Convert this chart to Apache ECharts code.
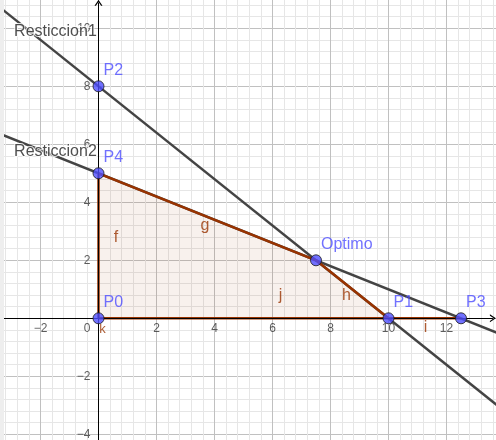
<!DOCTYPE html>
<html><head><meta charset="utf-8">
<script src="https://cdn.jsdelivr.net/npm/echarts@6/dist/echarts.min.js"></script>
<style>html,body{margin:0;padding:0;background:#fff}#c{width:496px;height:440px}</style>
</head><body><div id="c"></div>
<script>
// ---- data ----
const pointNames = ['P0', 'P1', 'P2', 'P3', 'P4', 'Optimo'];
const pointX = [0, 10, 0, 12.5, 0, 7.5];
const pointY = [0, 0, 8, 0, 5, 2];
const restr1X = [-4, 14];
const restr1Y = [11.2, -3.2];
const restr2X = [-4, 14];
const restr2Y = [6.6, -0.6];
const feasX = [0, 0, 7.5, 10];
const feasY = [0, 5, 2, 0];
const baseX = [0, 10, 12.5];
const baseY = [0, 0, 0];
const xTicks = [-2, 0, 2, 4, 6, 8, 10, 12];
const yTicks = [-4, -2, 2, 4, 6, 8, 10];
const lineLabels = ['Resticcion1', 'Resticcion2'];
const lineLabelX = [-2.91, -2.91];
const lineLabelY = [9.89, 5.75];
const segNames = ['f', 'g', 'h', 'j', 'i', 'k'];
const segX = [0.6, 3.67, 8.55, 6.28, 11.28, 0.14];
const segY = [2.77, 3.2, 0.8, 0.79, -0.32, -0.37];
const axisStart = [-4, -6];
const axisEnd = [13.6, 10.88];

// ---- chart ----
const FONT = 'Liberation Sans, Arial, sans-serif';
const BROWN = '#993300';
const BLUE = '#4d4dff';
const zip = (xs, ys) => xs.map((x, i) => [x, ys[i]]);
const fmt = v => (v < 0 ? '\u2212' + Math.abs(v) : String(v));
const chevron = 'path://M0,6 L4,0 L8,6 L6.6,6 L4,2.1 L1.4,6 Z';

const chart = echarts.init(document.getElementById('c'), null, {renderer: 'canvas'});
const axisCommon = {
  type: 'value', interval: 2,
  axisLine: {show: false},
  axisTick: {show: false},
  axisLabel: {show: false},
  splitLine: {show: true, lineStyle: {color: '#c0c0c0', width: 1}},
  minorTick: {show: false, splitNumber: 5},
  minorSplitLine: {show: true, lineStyle: {color: '#e6e6e6', width: 1}}
};
const tickLabelStyle = {show: true, color: '#333', fontSize: 12, fontFamily: FONT, formatter: p => p.name};
chart.setOption({
  animation: false,
  backgroundColor: '#ffffff',
  textStyle: {fontFamily: FONT},
  grid: {left: -17.5, right: -8.5, top: -29.7, bottom: -52.3, containLabel: false, outerBoundsMode: 'none'},
  xAxis: Object.assign({}, axisCommon, {min: -4, max: 14}),
  yAxis: Object.assign({}, axisCommon, {min: -6, max: 12}),
  graphic: [{type: 'rect', left: 0, top: 0, shape: {width: 4, height: 440}, style: {fill: '#eeeeee'}, z: 100}],
  series: [
    {
      type: 'line', name: 'axes', data: [], z: 1, silent: true,
      markLine: {
        silent: true, animation: false,
        symbol: ['none', chevron], symbolSize: [8, 6],
        label: {show: false},
        lineStyle: {color: '#000', width: 1, type: 'solid'},
        data: [
          [{coord: [axisStart[0], 0]}, {coord: [axisEnd[0], 0]}],
          [{coord: [0, axisStart[1]]}, {coord: [0, axisEnd[1]]}]
        ]
      }
    },
    {type: 'scatter', name: 'xTickLabels', z: 1, silent: true,
      symbolSize: 0, itemStyle: {color: 'rgba(0,0,0,0)'},
      data: xTicks.map(v => ({name: fmt(v), value: [v, 0],
        label: {offset: v === 0 ? [-11.5, 0] : [0, 0]}})),
      label: Object.assign({}, tickLabelStyle, {position: 'bottom', distance: 4})},
    {type: 'scatter', name: 'yTickLabels', z: 1, silent: true,
      symbolSize: 0, itemStyle: {color: 'rgba(0,0,0,0)'},
      data: yTicks.map(v => ({name: fmt(v), value: [0, v]})),
      label: Object.assign({}, tickLabelStyle, {position: 'left', distance: 8})},
    {type: 'line', name: 'r1', data: zip(restr1X, restr1Y), showSymbol: false, z: 2,
      lineStyle: {color: '#444', width: 2.5}},
    {type: 'line', name: 'r2', data: zip(restr2X, restr2Y), showSymbol: false, z: 2,
      lineStyle: {color: '#444', width: 2.5}},
    {type: 'line', name: 'feas', data: zip(feasX, feasY), showSymbol: false, z: 3,
      lineStyle: {color: BROWN, width: 2.5},
      areaStyle: {color: 'rgba(153,51,0,0.1)', origin: 0}},
    {type: 'line', name: 'base', data: zip(baseX, baseY), showSymbol: false, z: 3,
      lineStyle: {color: BROWN, width: 2.5}},
    {type: 'scatter', name: 'segLabels', z: 4, silent: true,
      symbolSize: 1, itemStyle: {color: 'rgba(0,0,0,0)'},
      data: segNames.map((n, i) => ({name: n, value: [segX[i], segY[i]],
        label: {fontSize: n === 'k' ? 13 : 16}})),
      label: {show: true, position: 'inside', formatter: p => p.name, color: BROWN, fontSize: 16, fontFamily: FONT}},
    {type: 'scatter', name: 'lineLabels', z: 4, silent: true,
      symbolSize: 0, itemStyle: {color: 'rgba(0,0,0,0)'},
      data: lineLabels.map((n, i) => ({name: n, value: [lineLabelX[i], lineLabelY[i]]})),
      label: {show: true, position: 'right', distance: 0, formatter: p => p.name,
        color: '#222', fontSize: 16, fontFamily: FONT, textBorderColor: '#fff', textBorderWidth: 2}},
    {type: 'scatter', name: 'points', z: 5,
      symbolSize: 11,
      itemStyle: {color: BLUE, borderColor: '#1a1a1a', borderWidth: 1},
      data: pointNames.map((n, i) => ({name: n, value: [pointX[i], pointY[i]]})),
      label: {show: true, position: 'right', distance: 0, offset: [-1, -16], formatter: p => p.name,
        color: BLUE, fontSize: 16, fontFamily: FONT}}
  ]
});
</script>
</body></html>
